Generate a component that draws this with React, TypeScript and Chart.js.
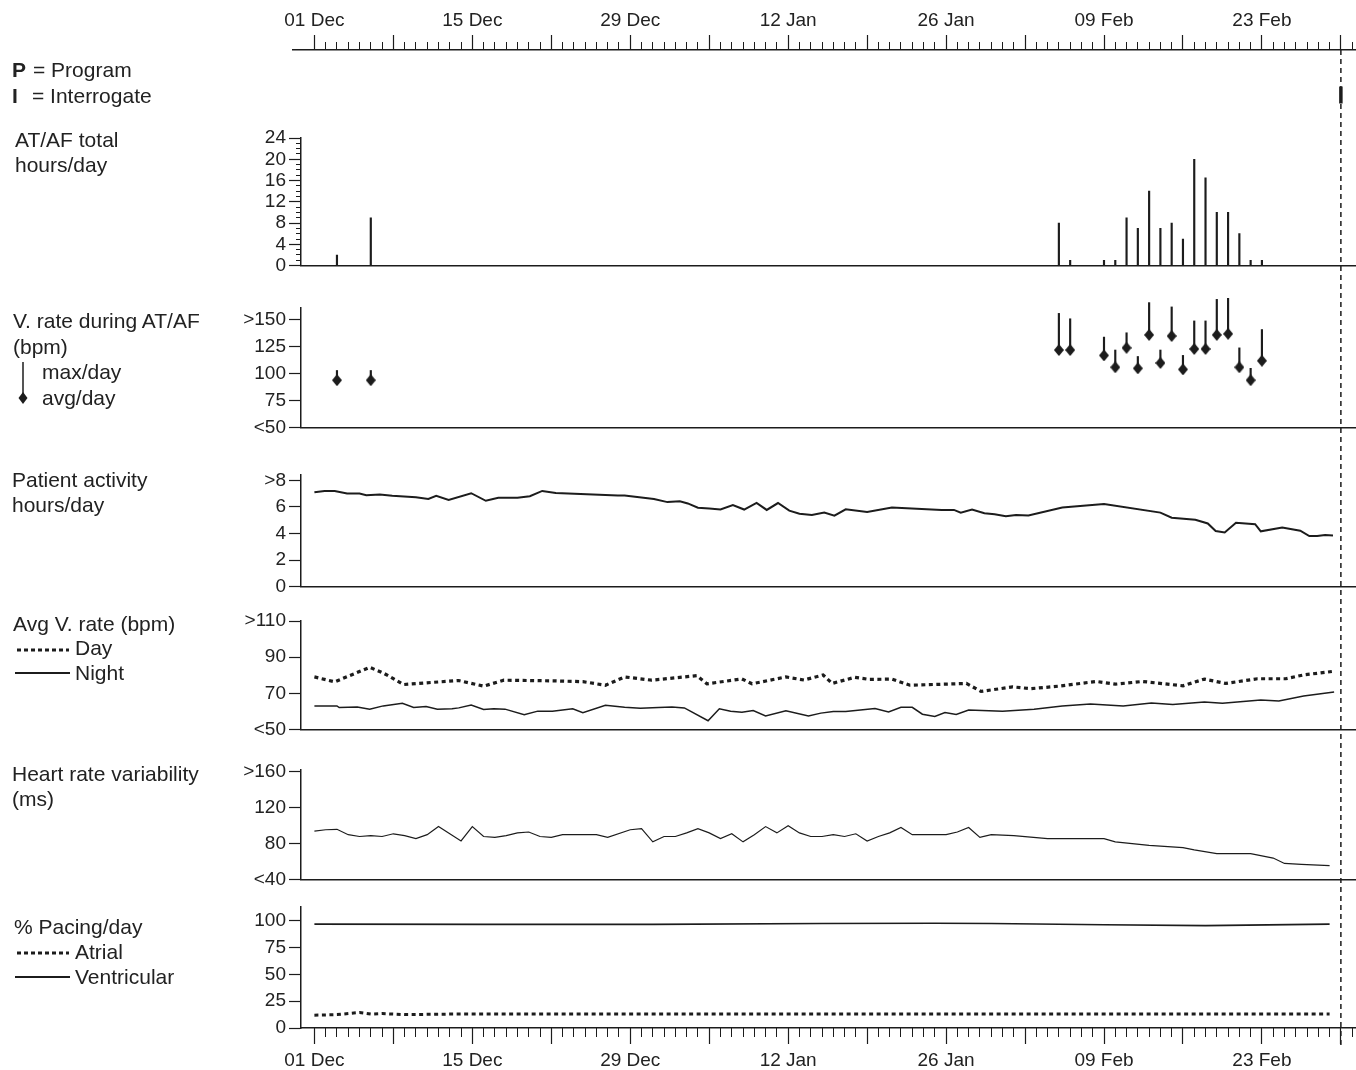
import React, { useEffect, useRef } from 'react';
import { Chart, registerables } from 'chart.js';

Chart.register(...registerables);

// ---------------- data ----------------
const dateTickDays = [0, 14, 28, 42, 56, 70, 84];
const dateTickLabels = ['01 Dec', '15 Dec', '29 Dec', '12 Jan', '26 Jan', '09 Feb', '23 Feb'];

const eventDays = [91];
const eventTypes = ['I'];

const atafDays = [2, 5, 66, 67, 70, 71, 72, 73, 74, 75, 76, 77, 78, 79, 80, 81, 82, 83, 84];
const atafHours = [2, 9, 8, 1, 1, 1, 9, 7, 14, 7, 8, 5, 20, 16.5, 10, 10, 6, 1, 1];
const atafTicks = [0, 4, 8, 12, 16, 20, 24];
const atafTickLabels = ['0', '4', '8', '12', '16', '20', '24'];
const atafMinorTicks = [0, 1, 2, 3, 4, 5, 6, 7, 8, 9, 10, 11, 12, 13, 14, 15, 16, 17, 18, 19, 20, 21, 22, 23, 24];

const vRateDays = [2, 5, 66, 67, 70, 71, 72, 73, 74, 75, 76, 77, 78, 79, 80, 81, 82, 83, 84];
const vRateAvg = [94, 94, 122, 122, 117, 106, 124, 105, 136, 110, 135, 104, 123, 123, 136, 137, 106, 94, 112];
const vRateMax = [103, 103, 156, 151, 134, 122, 138, 116, 166, 122, 162, 117, 149, 149, 169, 170, 124, 105, 141];
const vRateTicks = [50, 75, 100, 125, 150];
const vRateTickLabels = ['<50', '75', '100', '125', '>150'];

const activityDays = [0, 0.9, 1.8, 2.9, 4.0, 4.6, 5.8, 6.9, 9.0, 10.1, 10.8, 11.9, 13.9, 15.2, 16.3, 18.0, 19.1, 20.2, 21.4, 26.9, 27.5, 30.1, 31.3, 32.4, 33.1, 34.0, 35.0, 36.0, 37.1, 38.1, 39.2, 40.1, 41.1, 42.1, 43.0, 44.1, 45.2, 46.1, 47.1, 49.0, 51.2, 55.6, 56.7, 57.3, 58.3, 59.4, 60.3, 61.3, 62.2, 63.3, 66.3, 70.0, 75.0, 76.0, 78.1, 79.2, 79.9, 80.7, 81.7, 83.4, 83.9, 85.8, 87.4, 88.2, 88.9, 89.6, 90.3];
const activityHours = [7.1, 7.2, 7.2, 7.0, 7.0, 6.88, 6.93, 6.83, 6.73, 6.6, 6.83, 6.53, 7.03, 6.46, 6.68, 6.68, 6.8, 7.2, 7.05, 6.86, 6.86, 6.6, 6.36, 6.43, 6.26, 5.94, 5.87, 5.8, 6.14, 5.8, 6.3, 5.77, 6.29, 5.72, 5.48, 5.39, 5.57, 5.34, 5.82, 5.62, 5.95, 5.77, 5.77, 5.57, 5.8, 5.52, 5.44, 5.29, 5.39, 5.36, 5.95, 6.21, 5.57, 5.18, 5.03, 4.75, 4.18, 4.08, 4.8, 4.7, 4.16, 4.44, 4.21, 3.8, 3.8, 3.88, 3.85];
const activityTicks = [0, 2, 4, 6, 8];
const activityTickLabels = ['0', '2', '4', '6', '>8'];

const dayRateDays = [0, 1.8, 4.9, 6.1, 7.9, 9.8, 12.8, 15, 16.8, 21.4, 23.8, 25.8, 27.5, 29.9, 33.9, 34.8, 37.9, 38.8, 41.8, 43.4, 45.1, 45.9, 47.9, 49.2, 51.2, 52.8, 57.8, 59.1, 61.9, 63.5, 66, 69.3, 71, 73.4, 77, 78.9, 80.8, 83.6, 86.1, 87.7, 90.2];
const dayRateBpm = [79.1, 76.4, 84.4, 81.3, 74.9, 75.8, 77.1, 74, 77.3, 76.9, 76.5, 74.5, 79.1, 77.3, 79.8, 75.3, 78, 75.3, 79.1, 77.4, 80.2, 75.5, 78.9, 77.7, 77.9, 74.5, 75.5, 71.1, 73.6, 72.6, 74, 76.6, 75.1, 76.6, 74.2, 77.9, 75.5, 78.1, 78.1, 80.2, 82.1];
const nightRateDays = [0, 2, 2.2, 3.8, 4.9, 6.1, 7.8, 8.8, 9.9, 10.9, 12.2, 12.8, 13.9, 15, 15.9, 16.9, 18.6, 19.8, 21.1, 22.9, 23.8, 25.8, 27.5, 28.9, 30.5, 31.7, 32.8, 34.9, 35.9, 36.9, 37.9, 38.9, 40, 41.8, 43.8, 44.9, 46, 47.1, 49.7, 50.9, 52, 53, 53.9, 55, 55.9, 56.9, 58, 61, 63.8, 66.3, 68.8, 71.7, 74.2, 76.1, 78.9, 80.5, 83.9, 85.5, 87.7, 90.4];
const nightRateBpm = [63.1, 63.1, 62.2, 62.5, 61.3, 63.1, 64.5, 62.2, 62.7, 61.3, 61.5, 62, 63.6, 61.1, 61.5, 61.3, 58.2, 60.2, 60.2, 61.5, 59.3, 63.5, 62.4, 61.8, 62.2, 62.5, 62, 54.9, 61.5, 60.2, 59.6, 60.5, 57.5, 60.4, 57.5, 59.1, 60, 60, 61.7, 59.8, 62.3, 62.3, 58.5, 57.2, 59.4, 58.3, 60.8, 60.2, 61.3, 63, 64.2, 63, 64.7, 63.8, 65.3, 64.5, 66.4, 65.8, 68.5, 70.75];
const rateTicks = [50, 70, 90, 110];
const rateTickLabels = ['<50', '70', '90', '>110'];

const hrvDays = [0, 1, 2, 3, 4, 5, 6, 7, 8, 9, 10, 11, 12, 13, 14, 15, 16, 17, 18, 19, 20, 21, 22, 25, 26, 28, 29, 30, 31, 32, 33, 34, 35, 36, 37, 38, 39, 40, 41, 42, 43, 44, 45, 46, 47, 48, 49, 50, 51, 52, 53, 56, 57, 58, 59, 60, 62, 65, 70, 71, 74, 77, 78, 80, 83, 85, 86, 87.5, 90];
const hrvMs = [94, 95.5, 96, 90, 88, 89, 88, 91, 89, 85.6, 90, 99, 91, 83, 99, 88, 87, 89, 92, 93, 88, 87, 90, 90, 87, 95.5, 96.7, 82, 88, 88, 92, 96.7, 92, 85.6, 91, 82, 90, 99, 92, 100, 92, 88, 88, 90, 88, 91, 83, 88, 92, 98, 90, 90, 93, 98, 87, 90, 89, 85.6, 85.6, 82, 78, 75.5, 73, 69, 69, 64, 58, 57, 55.5];
const hrvTicks = [40, 80, 120, 160];
const hrvTickLabels = ['<40', '80', '120', '>160'];

const ventDays = [0, 15, 30, 45, 55, 60, 70, 79, 90];
const ventPct = [97, 96.8, 96.8, 97.6, 97.8, 97.6, 96.4, 95.6, 97];
const atrialDays = [0, 2, 4, 5, 6, 8, 12, 20, 30, 40, 50, 60, 70, 80, 90];
const atrialPct = [12, 12.5, 14.5, 13, 13.5, 12.5, 13, 13, 13, 13, 13, 13, 13, 13, 13];
const pacingTicks = [0, 25, 50, 75, 100];
const pacingTickLabels = ['0', '25', '50', '75', '100'];

// ---------------- layout / style ----------------
const W = 1356;
const H = 1070;
const DAY0_X = 314.4;
const PX_PER_DAY = 11.28;
const AXIS_X = 301;
const FRAME_X = 293;
const X_MAX = (W - DAY0_X) / PX_PER_DAY;
const TOP_AXIS_Y = 50;
const FRAME_BOTTOM = 1046;
const EVENT_ROW_Y = 95;
const PAD_T = 26;
const PAD_B = 14;
const INK = '#1c1c1c';
const TEXT = '#222';
const FONT = "'Liberation Sans', Arial, Helvetica, sans-serif";

Chart.defaults.font.family = FONT;
Chart.defaults.color = TEXT;

const range = (a: number, b: number, s: number) => {
  const r: number[] = [];
  for (let v = a; v <= b + 1e-9; v += s) r.push(v);
  return r;
};
const majorDays = range(0, 91, 7);
const minorDays = range(0, 92, 1);

const xy = (xs: number[], ys: any[]) => xs.map((x, i) => ({ x, y: ys[i] }));
const fixedTicks = (vals: number[]) => (s: any) => {
  s.ticks = vals.map((v) => ({ value: v }));
};
const dateLabel = (v: number) => {
  const i = dateTickDays.indexOf(v);
  return i >= 0 ? dateTickLabels[i] : '';
};

let diamondCache: HTMLCanvasElement | null = null;
function diamond(): HTMLCanvasElement {
  if (diamondCache) return diamondCache;
  const c = document.createElement('canvas');
  c.width = 10;
  c.height = 12;
  const g = c.getContext('2d')!;
  g.fillStyle = INK;
  g.beginPath();
  g.moveTo(5, 0);
  g.lineTo(10, 6);
  g.lineTo(5, 12);
  g.lineTo(0, 6);
  g.closePath();
  g.fill();
  diamondCache = c;
  return c;
}

type PanelSpec = {
  top: number;
  bottom: number;
  yMin: number;
  yMax: number;
  yTicks: number[];
  yLabels: string[];
  yMinorTicks?: number[];
  datasets: () => any[];
  timeAxis?: boolean;
};

function panelGeom(p: PanelSpec) {
  const canvasTop = p.top - PAD_T;
  const canvasBottom = p.timeAxis ? H : p.bottom + PAD_B;
  return { canvasTop, height: canvasBottom - canvasTop };
}

function panelConfig(p: PanelSpec): any {
  const xMin = -(DAY0_X - AXIS_X) / PX_PER_DAY;
  const bottomSpace = p.timeAxis ? H - p.bottom : 0;
  const scales: any = {
    x: {
      type: 'linear',
      axis: 'x',
      position: 'bottom',
      min: xMin,
      max: X_MAX,
      offset: false,
      weight: 1,
      afterFit: (s: any) => {
        s.height = bottomSpace;
      },
      afterBuildTicks: fixedTicks(majorDays),
      ticks: {
        display: !!p.timeAxis,
        autoSkip: false,
        maxRotation: 0,
        minRotation: 0,
        padding: 5,
        color: TEXT,
        font: { size: 19, family: FONT },
        callback: dateLabel,
      },
      grid: {
        display: true,
        drawOnChartArea: false,
        drawTicks: !!p.timeAxis,
        tickLength: 16,
        tickColor: INK,
        tickWidth: 1.2,
      },
      border: { display: true, color: INK, width: 1.5 },
    },
    y: {
      type: 'linear',
      axis: 'y',
      position: 'left',
      min: p.yMin,
      max: p.yMax,
      weight: 1,
      afterFit: (s: any) => {
        s.width = AXIS_X;
      },
      afterBuildTicks: fixedTicks(p.yTicks),
      ticks: {
        autoSkip: false,
        padding: 3,
        color: TEXT,
        font: { size: 19, family: FONT },
        callback: (v: number) => {
          const i = p.yTicks.indexOf(v);
          return i >= 0 ? p.yLabels[i] : '';
        },
      },
      grid: {
        drawOnChartArea: false,
        drawTicks: true,
        tickLength: 12,
        tickColor: INK,
        tickWidth: 1.2,
      },
      border: { display: true, color: INK, width: 1.5 },
    },
  };
  if (p.timeAxis) {
    scales.xMinor = {
      type: 'linear',
      axis: 'x',
      position: 'bottom',
      min: xMin,
      max: X_MAX,
      offset: false,
      weight: 0,
      afterFit: (s: any) => {
        s.height = 0;
      },
      afterBuildTicks: fixedTicks(minorDays),
      ticks: { display: false, autoSkip: false },
      grid: { drawOnChartArea: false, drawTicks: true, tickLength: 9, tickColor: INK, tickWidth: 1 },
      border: { display: false },
    };
  }
  if (p.yMinorTicks) {
    scales.yMinor = {
      type: 'linear',
      axis: 'y',
      position: 'left',
      min: p.yMin,
      max: p.yMax,
      weight: 0,
      afterFit: (s: any) => {
        s.width = 0;
      },
      afterBuildTicks: fixedTicks(p.yMinorTicks),
      ticks: { display: false, autoSkip: false },
      grid: { drawOnChartArea: false, drawTicks: true, tickLength: 5, tickColor: INK, tickWidth: 1 },
      border: { display: false },
    };
  }
  return {
    type: 'line',
    data: { datasets: p.datasets() },
    options: {
      responsive: false,
      animation: false,
      events: [],
      layout: { autoPadding: false, padding: { left: 0, right: 0, top: PAD_T, bottom: p.timeAxis ? 0 : PAD_B } },
      plugins: { legend: { display: false }, tooltip: { enabled: false } },
      scales,
    },
  };
}

function frameConfig(): any {
  const xMin = -(DAY0_X - FRAME_X) / PX_PER_DAY;
  const datasets: any[] = [];
  eventDays.forEach((d, i) => {
    datasets.push({
      type: 'line',
      label: eventTypes[i],
      data: [{ x: d, y: EVENT_ROW_Y }],
      showLine: false,
      pointStyle: 'line',
      rotation: 90,
      pointRadius: 8.5,
      pointBorderWidth: 3.5,
      pointBorderColor: INK,
      clip: false,
    });
    datasets.push({
      type: 'line',
      data: [
        { x: d, y: TOP_AXIS_Y },
        { x: d, y: FRAME_BOTTOM },
      ],
      borderColor: INK,
      borderWidth: 1.5,
      borderDash: [5, 4],
      pointRadius: 0,
      clip: false,
    });
  });
  return {
    type: 'line',
    data: { datasets },
    options: {
      responsive: false,
      animation: false,
      events: [],
      layout: { autoPadding: false, padding: { left: FRAME_X, right: 0, top: 0, bottom: H - FRAME_BOTTOM } },
      plugins: { legend: { display: false }, tooltip: { enabled: false } },
      scales: {
        x: {
          type: 'linear',
          axis: 'x',
          position: 'top',
          min: xMin,
          max: X_MAX,
          offset: false,
          weight: 1,
          afterFit: (s: any) => {
            s.height = TOP_AXIS_Y;
          },
          afterBuildTicks: fixedTicks(majorDays),
          ticks: {
            autoSkip: false,
            maxRotation: 0,
            minRotation: 0,
            padding: 3,
            color: TEXT,
            font: { size: 19, family: FONT },
            callback: dateLabel,
          },
          grid: { drawOnChartArea: false, drawTicks: true, tickLength: 15, tickColor: INK, tickWidth: 1.2 },
          border: { display: true, color: INK, width: 1.5 },
        },
        xMinor: {
          type: 'linear',
          axis: 'x',
          position: 'top',
          min: xMin,
          max: X_MAX,
          offset: false,
          weight: 0,
          afterFit: (s: any) => {
            s.height = 0;
          },
          afterBuildTicks: fixedTicks(minorDays),
          ticks: { display: false, autoSkip: false },
          grid: { drawOnChartArea: false, drawTicks: true, tickLength: 8, tickColor: INK, tickWidth: 1 },
          border: { display: false },
        },
        y: { type: 'linear', display: false, min: TOP_AXIS_Y, max: FRAME_BOTTOM, reverse: true },
      },
    },
  };
}

const lineDs = (xs: number[], ys: number[], width: number, dash?: number[]) => ({
  type: 'line',
  data: xy(xs, ys),
  borderColor: INK,
  borderWidth: width,
  borderDash: dash || [],
  borderCapStyle: 'butt',
  borderJoinStyle: 'miter',
  pointRadius: 0,
  tension: 0,
  fill: false,
});

const panels: PanelSpec[] = [
  {
    top: 138,
    bottom: 266,
    yMin: 0,
    yMax: 24,
    yTicks: atafTicks,
    yLabels: atafTickLabels,
    yMinorTicks: atafMinorTicks,
    datasets: () => [
      { type: 'bar', data: xy(atafDays, atafHours), barThickness: 1.5, backgroundColor: INK, borderWidth: 0 },
    ],
  },
  {
    top: 308,
    bottom: 428,
    yMin: 50,
    yMax: 161,
    yTicks: vRateTicks,
    yLabels: vRateTickLabels,
    datasets: () => [
      { type: 'line', data: xy(vRateDays, vRateAvg), showLine: false, pointStyle: diamond(), pointRadius: 6, clip: false },
      {
        type: 'bar',
        data: vRateDays.map((d, i) => ({ x: d, y: [vRateAvg[i], vRateMax[i]] })),
        barThickness: 1.5,
        backgroundColor: INK,
        borderWidth: 0,
        clip: false,
      },
    ],
  },
  {
    top: 475,
    bottom: 587,
    yMin: 0,
    yMax: 8.4,
    yTicks: activityTicks,
    yLabels: activityTickLabels,
    datasets: () => [lineDs(activityDays, activityHours, 2)],
  },
  {
    top: 621,
    bottom: 730,
    yMin: 50,
    yMax: 110,
    yTicks: rateTicks,
    yLabels: rateTickLabels,
    datasets: () => [lineDs(dayRateDays, dayRateBpm, 3.2, [4, 3.5]), lineDs(nightRateDays, nightRateBpm, 1.5)],
  },
  {
    top: 770,
    bottom: 880,
    yMin: 40,
    yMax: 162,
    yTicks: hrvTicks,
    yLabels: hrvTickLabels,
    datasets: () => [lineDs(hrvDays, hrvMs, 1.2)],
  },
  {
    top: 907,
    bottom: 1028,
    yMin: 0,
    yMax: 113,
    yTicks: pacingTicks,
    yLabels: pacingTickLabels,
    timeAxis: true,
    datasets: () => [lineDs(atrialDays, atrialPct, 3, [4, 3.5]), lineDs(ventDays, ventPct, 1.6)],
  },
];

function ChartCanvas({ top, height, build }: { top: number; height: number; build: () => any }) {
  const ref = useRef<HTMLCanvasElement>(null);
  useEffect(() => {
    const chart = new Chart(ref.current as HTMLCanvasElement, build());
    return () => chart.destroy();
  }, []);
  return (
    <canvas
      ref={ref}
      width={W}
      height={height}
      style={{ position: 'absolute', left: 0, top, width: W, height, display: 'block' }}
    />
  );
}

function Txt({ x, y, children, bold }: { x: number; y: number; children: any; bold?: boolean }) {
  return (
    <div
      style={{
        position: 'absolute',
        left: x,
        top: y - 12,
        height: 24,
        lineHeight: '24px',
        fontSize: 21,
        fontWeight: bold ? 700 : 400,
        whiteSpace: 'nowrap',
        color: TEXT,
      }}
    >
      {children}
    </div>
  );
}

function LegendLine({ x, y, w, dash, width }: { x: number; y: number; w: number; dash?: string; width: number }) {
  return (
    <svg style={{ position: 'absolute', left: x, top: y - 5 }} width={w} height={10}>
      <line x1={0} y1={5} x2={w} y2={5} stroke={INK} strokeWidth={width} strokeDasharray={dash} />
    </svg>
  );
}

export default function App() {
  return (
    <div
      style={{
        position: 'absolute',
        left: 0,
        top: 0,
        width: W,
        height: H,
        background: '#fff',
        overflow: 'hidden',
        fontFamily: FONT,
      }}
    >
      <ChartCanvas top={0} height={H} build={frameConfig} />
      {panels.map((p, i) => {
        const g = panelGeom(p);
        return <ChartCanvas key={i} top={g.canvasTop} height={g.height} build={() => panelConfig(p)} />;
      })}

      <Txt x={12} y={70} bold>
        P
      </Txt>
      <Txt x={33} y={70}>= Program</Txt>
      <Txt x={12} y={96} bold>
        I
      </Txt>
      <Txt x={32} y={96}>= Interrogate</Txt>

      <Txt x={15} y={140}>AT/AF total</Txt>
      <Txt x={15} y={165}>hours/day</Txt>

      <Txt x={13} y={321}>V. rate during AT/AF</Txt>
      <Txt x={13} y={347}>(bpm)</Txt>
      <svg style={{ position: 'absolute', left: 16, top: 362 }} width={14} height={44}>
        <line x1={7} y1={0} x2={7} y2={34} stroke={INK} strokeWidth={1.5} />
        <polygon points="7,30 11.5,36 7,42 2.5,36" fill={INK} />
      </svg>
      <Txt x={42} y={372}>max/day</Txt>
      <Txt x={42} y={398}>avg/day</Txt>

      <Txt x={12} y={480}>Patient activity</Txt>
      <Txt x={12} y={505}>hours/day</Txt>

      <Txt x={13} y={624}>Avg V. rate (bpm)</Txt>
      <LegendLine x={17} y={650} w={52} width={3} dash="4 3" />
      <Txt x={75} y={648}>Day</Txt>
      <LegendLine x={15} y={673} w={55} width={2} />
      <Txt x={75} y={673}>Night</Txt>

      <Txt x={12} y={774}>Heart rate variability</Txt>
      <Txt x={12} y={799}>(ms)</Txt>

      <Txt x={14} y={927}>% Pacing/day</Txt>
      <LegendLine x={17} y={953} w={52} width={3} dash="4 3" />
      <Txt x={75} y={952}>Atrial</Txt>
      <LegendLine x={15} y={977} w={55} width={2} />
      <Txt x={75} y={977}>Ventricular</Txt>
    </div>
  );
}
